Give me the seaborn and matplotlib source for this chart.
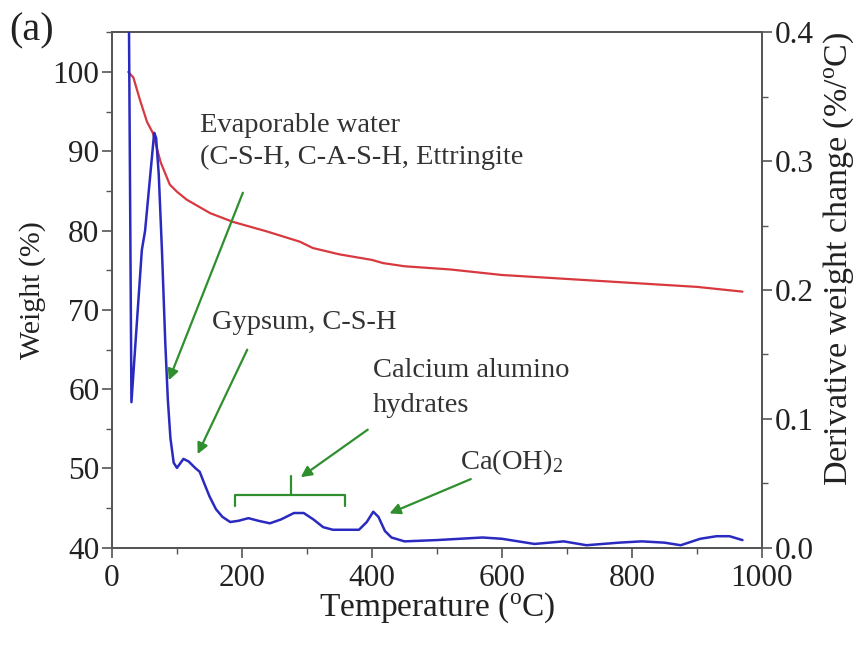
import numpy as np
import pandas as pd
import matplotlib
matplotlib.use("Agg")
import matplotlib.pyplot as plt
import seaborn as sns

# Weight (TG) curve
tg_temp = [25, 33, 43, 54, 63, 75, 85, 89, 100, 115, 151, 186, 238, 289, 309, 350, 400, 417, 450, 520, 600, 700, 800, 900, 970]
tg_weight = [100, 99.3, 96.5, 93.7, 92.3, 88.6, 86.6, 85.8, 84.9, 83.9, 82.2, 81.1, 79.9, 78.6, 77.8, 77.0, 76.3, 75.9, 75.5, 75.1, 74.4, 73.9, 73.4, 72.9, 72.3]

# Derivative (DTG) curve
dtg_temp = [25, 30, 46, 51, 65, 68, 72, 77, 82, 86, 90, 95, 100, 110, 118, 128, 135, 142, 150, 160, 170, 182,
            195, 210, 225, 243, 260, 280, 295, 310, 325, 340, 380, 392, 402, 410, 420, 430, 450, 500, 570, 600,
            650, 695, 730, 780, 815, 850, 875, 905, 930, 950, 970]
dtg_value = [0.50, 0.113, 0.231, 0.246, 0.322, 0.318, 0.290, 0.230, 0.160, 0.115, 0.085, 0.066, 0.062, 0.069, 0.067,
             0.062, 0.059, 0.050, 0.040, 0.030, 0.024, 0.020, 0.021, 0.023, 0.021, 0.019, 0.022, 0.027, 0.027, 0.022,
             0.016, 0.014, 0.014, 0.020, 0.028, 0.024, 0.013, 0.008, 0.005, 0.006, 0.008, 0.007, 0.003, 0.005, 0.002,
             0.004, 0.005, 0.004, 0.002, 0.007, 0.009, 0.009, 0.006]

x_ticks = [0, 200, 400, 600, 800, 1000]
y_left_ticks = [40, 50, 60, 70, 80, 90, 100]
y_right_ticks = [0.0, 0.1, 0.2, 0.3, 0.4]

sns.set_style("ticks")
plt.rcParams['font.family'] = ['Liberation Serif', 'DejaVu Serif']
plt.rcParams['mathtext.fontset'] = 'custom'
plt.rcParams['mathtext.rm'] = 'Liberation Serif'
plt.rcParams['mathtext.it'] = 'Liberation Serif:italic'

fig = plt.figure(figsize=(8.61, 6.46), dpi=100)
ax = fig.add_axes([0.130, 0.152, 0.755, 0.798])
ax2 = ax.twinx()

tg = pd.DataFrame({"T": tg_temp, "W": tg_weight})
dtg = pd.DataFrame({"T": dtg_temp, "D": dtg_value})

red = "#d8393f"
blue = "#2a2ac0"
green = "#2f8f2f"
spine_col = "#555555"
txt = "#222222"

sns.lineplot(data=tg, x="T", y="W", ax=ax, color=red, linewidth=1.6, zorder=3)
sns.lineplot(data=dtg, x="T", y="D", ax=ax2, color=blue, linewidth=1.8, zorder=3)

ax.set_xlim(0, 1000)
ax.set_ylim(40, 105)
ax2.set_ylim(0, 0.4)
ax.set_xticks(x_ticks)
ax.set_yticks(y_left_ticks)
ax2.set_yticks(y_right_ticks)
ax2.set_yticklabels([f"{v:.1f}" for v in y_right_ticks])
ax.xaxis.set_minor_locator(matplotlib.ticker.MultipleLocator(100))
ax.yaxis.set_minor_locator(matplotlib.ticker.MultipleLocator(5))
ax2.yaxis.set_minor_locator(matplotlib.ticker.MultipleLocator(0.05))

for a in (ax, ax2):
    for s in a.spines.values():
        s.set_visible(True)
        s.set_color(spine_col)
        s.set_linewidth(1.3)
    a.tick_params(which="major", length=7, width=1.2, color=spine_col, labelsize=22.5, labelcolor=txt, pad=2)
    a.tick_params(which="minor", length=4, width=1.0, color=spine_col)

ax.tick_params(axis="x", pad=5)
ax.set_xlabel("Temperature ($^{\\mathrm{o}}$C)", fontsize=24, color=txt, labelpad=-2)
ax.set_ylabel("Weight (%)", fontsize=21.5, color=txt, labelpad=5)
ax2.set_ylabel("Derivative weight change (%/$^{\\mathrm{o}}$C)", fontsize=24.5, color=txt)
ax2.yaxis.set_label_coords(1.092, 0.56)

fig.text(0.011, 0.952, "(a)", fontsize=29, color=txt, va="center")

afs = 20.5
tcol = "#333333"
ax.text(135, 93.3, "Evaporable water", fontsize=afs, color=tcol, va="center")
ax.text(135, 89.2, "(C-S-H, C-A-S-H, Ettringite", fontsize=afs, color=tcol, va="center")
ax.text(154, 68.4, "Gypsum, C-S-H", fontsize=afs, color=tcol, va="center")
ax.text(401, 62.4, "Calcium alumino", fontsize=afs, color=tcol, va="center")
ax.text(401, 58.0, "hydrates", fontsize=afs, color=tcol, va="center")
ax.text(535, 50.8, "Ca(OH)$_2$", fontsize=afs, color=tcol, va="center")

arrows = [((203, 85.1), (86, 60.8)),
          ((210, 65.3), (130, 51.5)),
          ((397, 55.1), (287, 48.7)),
          ((556, 48.8), (423, 44.2))]
for (tail, head) in arrows:
    ax.annotate("", xy=head, xytext=tail,
                arrowprops=dict(arrowstyle="-|>", color=green, lw=1.6, mutation_scale=16),
                zorder=5)

# bracket
ax.plot([190, 190, 358, 358], [45.3, 46.6, 46.6, 45.3], color=green, lw=1.6, zorder=5)
ax.plot([275, 275], [46.6, 49.0], color=green, lw=1.6, zorder=5)

fig.savefig("out.png", dpi=100)
